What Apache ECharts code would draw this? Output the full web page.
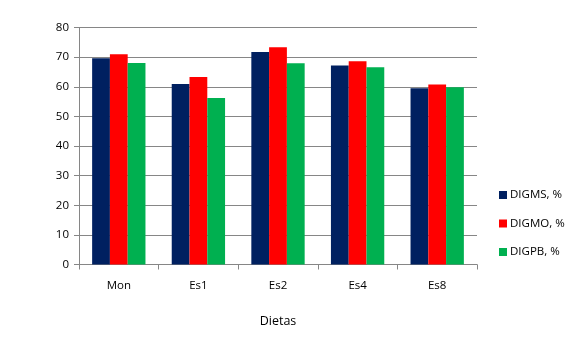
<!DOCTYPE html>
<html><head><meta charset="utf-8">
<script src="https://cdn.jsdelivr.net/npm/echarts@6/dist/echarts.min.js"></script>
<style>html,body{margin:0;padding:0;background:#fff}#c{width:583px;height:340px}</style>
</head><body><div id="c"></div>
<script>
var categories = ['Mon', 'Es1', 'Es2', 'Es4', 'Es8'];
var seriesNames = ['DIGMS, %', 'DIGMO, %', 'DIGPB, %'];
var digms = [69.6, 60.9, 71.7, 67.2, 59.5];
var digmo = [71.0, 63.3, 73.3, 68.6, 60.8];
var digpb = [68.0, 56.2, 67.9, 66.6, 59.8];
var colors = ['#002060', '#FF0000', '#00B050'];
var font = 'Open Sans, Liberation Sans, sans-serif';
var chart = echarts.init(document.getElementById('c'), null, {renderer: 'canvas'});
var dataSets = [digms, digmo, digpb];
chart.setOption({
  animation: false,
  color: colors,
  grid: {left: 79, right: 106, top: 27.5, bottom: 75.5, containLabel: false},
  legend: {
    orient: 'vertical', left: 494, top: 184, itemWidth: 8, itemHeight: 8, itemGap: 16.5,
    icon: 'rect',
    textStyle: {fontFamily: font, fontSize: 11.5, color: '#000', padding: [0,0,0,-2]},
    data: seriesNames
  },
  xAxis: {
    type: 'category', data: categories,
    name: 'Dietas', nameLocation: 'middle', nameGap: 50,
    nameTextStyle: {fontFamily: font, fontSize: 12.5, color: '#000'},
    axisLine: {lineStyle: {color: '#868686', width: 1}},
    axisTick: {show: true, length: 5, lineStyle: {color: '#868686'}},
    axisLabel: {fontFamily: font, fontSize: 11.5, color: '#000', margin: 15}
  },
  yAxis: {
    type: 'value', min: 0, max: 80, interval: 10,
    axisLine: {show: true, lineStyle: {color: '#868686', width: 1}},
    axisTick: {show: true, length: 5, lineStyle: {color: '#868686'}},
    axisLabel: {fontFamily: font, fontSize: 11.5, color: '#000', margin: 10},
    splitLine: {lineStyle: {color: '#868686', width: 1}}
  },
  series: seriesNames.map(function (n, i) {
    return {name: n, type: 'bar', data: dataSets[i], barGap: '0%', barCategoryGap: '33%'};
  })
});
</script></body></html>
